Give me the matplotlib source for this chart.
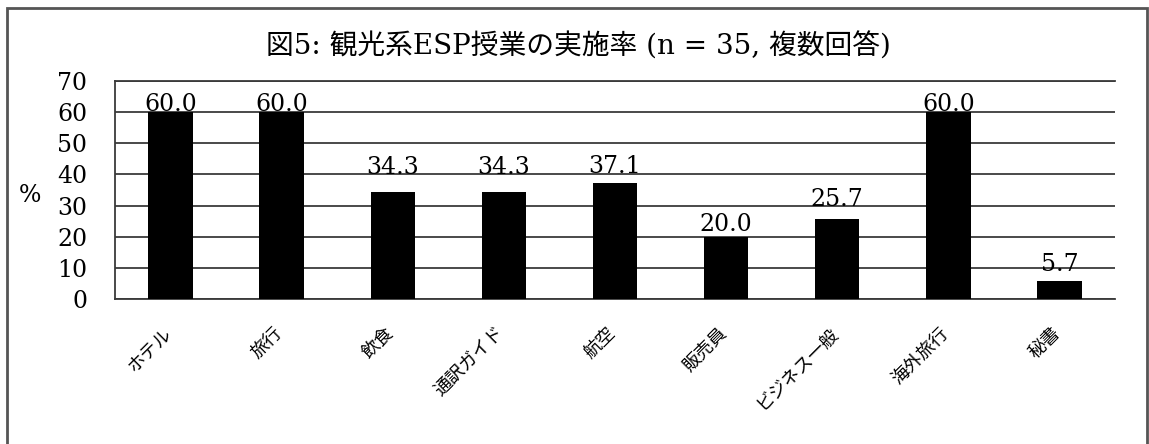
import matplotlib
matplotlib.use("Agg")
import matplotlib.pyplot as plt
import matplotlib.transforms as mtransforms
from matplotlib.patches import Rectangle

categories = ["ホテル", "旅行", "飲食", "通訳ガイド", "航空", "販売員", "ビジネス一般", "海外旅行", "秘書"]
rates = [60.0, 60.0, 34.3, 34.3, 37.1, 20.0, 25.7, 60.0, 5.7]
y_ticks = [0, 10, 20, 30, 40, 50, 60, 70]
# how far each value label sits above its bar (data units)
label_lift = [0.3, 0.3, 5.8, 5.8, 3.2, 1.9, 4.2, 0.3, 3.2]

SERIF = ["DejaVu Serif", "Noto Sans CJK JP"]
GOTHIC = ["Noto Sans CJK JP", "DejaVu Sans"]
GRID = "#3a3a3a"

W, H = 1149, 444
fig = plt.figure(figsize=(W / 100, H / 100), dpi=100)
ax = fig.add_axes([115 / W, 1 - 299 / H, 1000 / W, (299 - 81) / H])

x = list(range(len(categories)))
ax.bar(x, rates, width=0.4, color="black", zorder=3)
for i, v, lift in zip(x, rates, label_lift):
    ax.text(i, v + lift, f"{v:.1f}", ha="center", va="baseline",
            fontsize=17, family=SERIF, zorder=4)

ax.set_xlim(-0.5, len(categories) - 0.5)
ax.set_ylim(0, 70)
ax.set_yticks(y_ticks)
ax.set_yticklabels([str(t) for t in y_ticks], family=SERIF, fontsize=17)
ax.tick_params(axis="y", length=0, pad=20)
ax.set_xticks(x)
ax.set_xticklabels(categories, rotation=45, ha="right", va="top",
                   rotation_mode="anchor", family=GOTHIC, fontsize=13)
ax.tick_params(axis="x", length=0, pad=18)
# nudge the slanted labels so they end under the bar centres
shift = mtransforms.ScaledTranslation(-6 / 72, 0, fig.dpi_scale_trans)
for lbl in ax.get_xticklabels():
    lbl.set_transform(lbl.get_transform() + shift)

ax.yaxis.grid(True, color=GRID, linewidth=1.3, zorder=1)
ax.spines["right"].set_visible(False)
for side in ["left", "top", "bottom"]:
    ax.spines[side].set_color(GRID)
    ax.spines[side].set_linewidth(1.3)

fig.text(30 / W, 1 - 196 / H, "%", family=SERIF, fontsize=17, ha="center", va="center")
fig.text(578 / W, 1 - 47 / H, "図5: 観光系ESP授業の実施率 (n = 35, 複数回答)",
         family=SERIF, fontsize=20, ha="center", va="center")

# outer frame, open at the bottom edge
fig.patches.append(Rectangle((7 / W, -20 / H), (1147 - 7) / W, (436 + 20) / H,
                             transform=fig.transFigure, fill=False,
                             edgecolor="#555555", linewidth=2))

fig.savefig("out.png", dpi=100)
